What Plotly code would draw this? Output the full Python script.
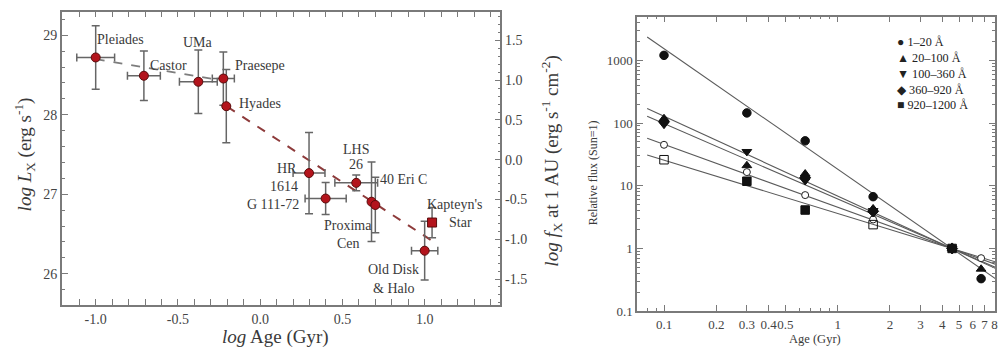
import plotly.graph_objects as go

FONT = "Liberation Serif"
TXT = "#3a3a3a"
AX = "#7a7a7a"

# ---------------- Left panel data ----------------
star_names = ["Pleiades", "Castor", "UMa", "Praesepe", "Hyades", "HR 1614",
              "G 111-72", "LHS 26", "Proxima Cen", "40 Eri C", "Kapteyn's Star",
              "Old Disk & Halo"]
log_age = [-1.0, -0.707, -0.376, -0.224, -0.206, 0.297, 0.398, 0.584, 0.677, 0.700, 1.045, 1.0]
log_lx = [28.72, 28.49, 28.414, 28.455, 28.107, 27.266, 26.946, 27.143, 26.906, 26.865, 26.644, 26.29]
err_age = [0.115, 0.10, 0.115, 0.067, 0.0, 0.097, 0.125, 0.13, 0.0, 0.0, 0.0, 0.08]
err_lx = [0.40, 0.31, 0.40, 0.335, 0.46, 0.51, 0.20, 0.10, 0.50, 0.35, 0.19, 0.37]
star_symbols = ["circle"] * 10 + ["square", "circle"]

trend_young_x = [-1.0, -0.2]
trend_young_y = [28.70, 28.42]
trend_old_x = [-0.2, 1.055]
trend_old_y = [28.10, 26.40]

label_text = ["Pleiades", "Castor", "UMa", "Praesepe", "Hyades", "HR", "1614", "G 111-72",
              "LHS", "26", "40 Eri C", "Proxima", "Cen", "Kapteyn's", "Star", "Old Disk", "& Halo"]
label_x = [-0.848, -0.555, -0.376, 0.0, 0.0, 0.164, 0.145, 0.078,
           0.583, 0.584, 0.870, 0.536, 0.535, 1.184, 1.216, 0.812, 0.812]
label_y = [28.947, 28.615, 28.910, 28.619, 28.135, 27.328, 27.103, 26.877,
           27.562, 27.370, 27.190, 26.610, 26.385, 26.877, 26.639, 26.054, 25.820]

lx_ticks = [26, 27, 28, 29]
fx_ticks = [-1.5, -1.0, -0.5, 0.0, 0.5, 1.0, 1.5]
age_ticks = [-1.0, -0.5, 0.0, 0.5, 1.0]

# ---------------- Right panel data ----------------
sun_ages = [0.1, 0.3, 0.65, 1.6, 4.56, 6.7]
band_names = ["1–20 Å", "20–100 Å", "100–360 Å", "360–920 Å", "920–1200 Å"]
band_ages = [
    [0.1, 0.3, 0.65, 1.6, 4.56, 6.7],
    [0.1, 0.3, 0.65, 1.6, 4.56, 6.7],
    [0.1, 0.3, 0.65, 1.6, 4.56],
    [0.1, 0.65, 1.6, 4.56],
    [0.1, 0.3, 0.65, 1.6, 4.56],
]
band_flux = [
    [1200, 145, 52, 6.7, 1.0, 0.33],
    [118, 21, 15.5, 4.3, 1.0, 0.47],
    [95, 35, 12, 4.0, 1.0],
    [105, 13.5, 3.9, 1.0],
    [26, 11.8, 4.1, 2.4, 1.0],
]
band_symbols = [
    ["circle"] * 6,
    ["triangle-up"] * 6,
    ["triangle-down"] * 5,
    ["diamond"] * 4,
    ["square-open", "square", "square", "square-open", "square"],
]
band_glyphs = ["●", "▲", "▼", "◆", "■"]
open_flux = [45, 16.5, 7.1, 2.9, 1.0, 0.7]

fit_ages = [0.08, 8.1]
fit_flux = [
    [2354, 0.33],
    [170, 0.48],
    [128, 0.50],
    [57, 0.56],
    [31, 0.61],
]
flux_ticks = [0.1, 1, 10, 100, 1000]
flux_ticktext = ["0.1", "1", "10", "100", "1000"]
rage_ticks = [0.1, 0.2, 0.3, 0.4, 0.5, 1, 2, 3, 4, 5, 6, 7, 8]
rage_ticktext = ["0.1", "0.2", "0.3", "0.4", "0.5", "1", "2", "3", "4", "5", "6", "7", "8"]

W, H = 999, 357
fig = go.Figure()

# left panel traces
fig.add_trace(go.Scatter(x=trend_young_x, y=trend_young_y, mode="lines",
                         line=dict(color="#7d7d7d", width=1.8, dash="dash"),
                         xaxis="x", yaxis="y", showlegend=False, hoverinfo="skip"))
fig.add_trace(go.Scatter(x=trend_old_x, y=trend_old_y, mode="lines",
                         line=dict(color="#8e3b3b", width=2.0, dash="dash"),
                         xaxis="x", yaxis="y", showlegend=False, hoverinfo="skip"))
fig.add_trace(go.Scatter(
    x=log_age, y=log_lx, mode="markers", text=star_names,
    marker=dict(symbol=star_symbols, size=9, color="#b3141c",
                line=dict(color="#5a0c0c", width=1)),
    error_x=dict(type="data", array=err_age, color="#666666", thickness=1.5, width=4),
    error_y=dict(type="data", array=err_lx, color="#666666", thickness=1.5, width=4),
    xaxis="x", yaxis="y", showlegend=False))
# invisible trace that activates the right-hand flux axis
fig.add_trace(go.Scatter(x=[log_age[0]], y=[log_lx[0] - 27.434], mode="markers",
                         marker=dict(opacity=0), xaxis="x", yaxis="y2",
                         showlegend=False, hoverinfo="skip"))

# right panel traces
for fy in fit_flux:
    fig.add_trace(go.Scatter(x=fit_ages, y=fy, mode="lines",
                             line=dict(color="#5a5a5a", width=1.1),
                             xaxis="x3", yaxis="y3", showlegend=False, hoverinfo="skip"))
fig.add_trace(go.Scatter(x=sun_ages, y=open_flux, mode="markers",
                         marker=dict(symbol="circle", size=7, color="white",
                                     line=dict(color="#222", width=1)),
                         xaxis="x3", yaxis="y3", showlegend=False))
for name, ages, fl, sym in zip(band_names, band_ages, band_flux, band_symbols):
    fig.add_trace(go.Scatter(x=ages, y=fl, mode="markers", name=name,
                             marker=dict(symbol=sym, size=8.5, color="#111",
                                         line=dict(color="#111", width=1)),
                             xaxis="x3", yaxis="y3", showlegend=False))

tickfont = dict(family=FONT, size=14, color="#444")
tickfont_r = dict(family=FONT, size=13, color="#444")

common = dict(showline=True, linecolor=AX, linewidth=1.5, ticks="inside",
              tickcolor=AX, tickwidth=1.2, ticklen=6, showgrid=False, zeroline=False)

annotations = []
for t, x, y in zip(label_text, label_x, label_y):
    annotations.append(dict(text=t, x=x, y=y, xref="x", yref="y", showarrow=False,
                            xanchor="center", yanchor="middle",
                            font=dict(family=FONT, size=14, color=TXT)))


def pap(px, py):
    return px / W, 1 - py / H


ax_, ay_ = pap(276.5, 345)
annotations.append(dict(text="<i>log</i> Age (Gyr)", x=ax_, y=ay_, xref="paper", yref="paper",
                        showarrow=False, xanchor="center", yanchor="middle",
                        font=dict(family=FONT, size=19, color=TXT)))
ax_, ay_ = pap(25, 158)
annotations.append(dict(text="<i>log L</i><sub>X</sub> (erg s<sup>-1</sup>)", x=ax_, y=ay_,
                        xref="paper", yref="paper", showarrow=False, textangle=-90,
                        xanchor="center", yanchor="middle",
                        font=dict(family=FONT, size=19, color=TXT)))
ax_, ay_ = pap(553, 165)
annotations.append(dict(text="<i>log f</i><sub>X</sub> at 1 AU (erg s<sup>-1</sup> cm<sup>-2</sup>)",
                        x=ax_, y=ay_, xref="paper", yref="paper", showarrow=False, textangle=-90,
                        xanchor="center", yanchor="middle",
                        font=dict(family=FONT, size=19, color=TXT)))
ax_, ay_ = pap(595, 177)
annotations.append(dict(text="Relative flux (Sun=1)", x=ax_, y=ay_, xref="paper", yref="paper",
                        showarrow=False, textangle=-90, xanchor="center", yanchor="middle",
                        font=dict(family=FONT, size=12, color=TXT)))
ax_, ay_ = pap(817.5, 347)
annotations.append(dict(text="Age (Gyr)", x=ax_, y=ay_, xref="paper", yref="paper",
                        showarrow=False, xanchor="center", yanchor="middle",
                        font=dict(family=FONT, size=12.5, color=TXT)))
legend_text = "<br>".join(f"{g} {n}" for g, n in zip(band_glyphs, band_names))
ax_, ay_ = pap(898, 34)
annotations.append(dict(text=legend_text, x=ax_, y=ay_, xref="paper", yref="paper",
                        showarrow=False, xanchor="left", yanchor="top", align="left",
                        font=dict(family=FONT, size=12.2, color="#222")))

fig.update_layout(
    width=W, height=H, margin=dict(l=0, r=0, t=0, b=0),
    paper_bgcolor="white", plot_bgcolor="white", showlegend=False,
    font=dict(family=FONT, color=TXT),
    xaxis=dict(domain=[62 / W, 502 / W], anchor="y", range=[-1.206, 1.461],
               tickvals=age_ticks, ticktext=[f"{v:.1f}" for v in age_ticks],
               tickfont=tickfont, mirror="allticks",
               minor=dict(dtick=0.1, ticks="inside", ticklen=3, tickcolor=AX),
               **common),
    yaxis=dict(domain=[1 - 312 / H, 1 - 12 / H], anchor="x", range=[25.607, 29.295],
               tickvals=lx_ticks, ticktext=[str(v) for v in lx_ticks], tickfont=tickfont,
               minor=dict(dtick=0.2, ticks="inside", ticklen=3, tickcolor=AX),
               **common),
    yaxis2=dict(overlaying="y", side="right", anchor="x", range=[-1.827, 1.861],
                tickvals=fx_ticks, ticktext=[f"{v:.1f}" for v in fx_ticks], tickfont=tickfont,
                minor=dict(dtick=0.1, ticks="inside", ticklen=3, tickcolor=AX),
                **common),
    xaxis3=dict(domain=[639 / W, 998 / W], anchor="y3", type="log", range=[-1.155, 0.906],
                tickvals=rage_ticks, ticktext=rage_ticktext, tickfont=tickfont_r, tickangle=0,
                mirror="allticks", ticklabeloverflow="allow",
                minor=dict(dtick="D1", ticks="inside", ticklen=3, tickcolor=AX),
                **common),
    yaxis3=dict(domain=[1 - 318.3 / H, 1 - 17 / H], anchor="x3", type="log", range=[-1, 3.697],
                tickvals=flux_ticks, ticktext=flux_ticktext, tickfont=tickfont_r,
                mirror="allticks",
                minor=dict(dtick="D1", ticks="inside", ticklen=3, tickcolor=AX),
                **common),
    annotations=annotations,
)

fig.write_html("out.html")
